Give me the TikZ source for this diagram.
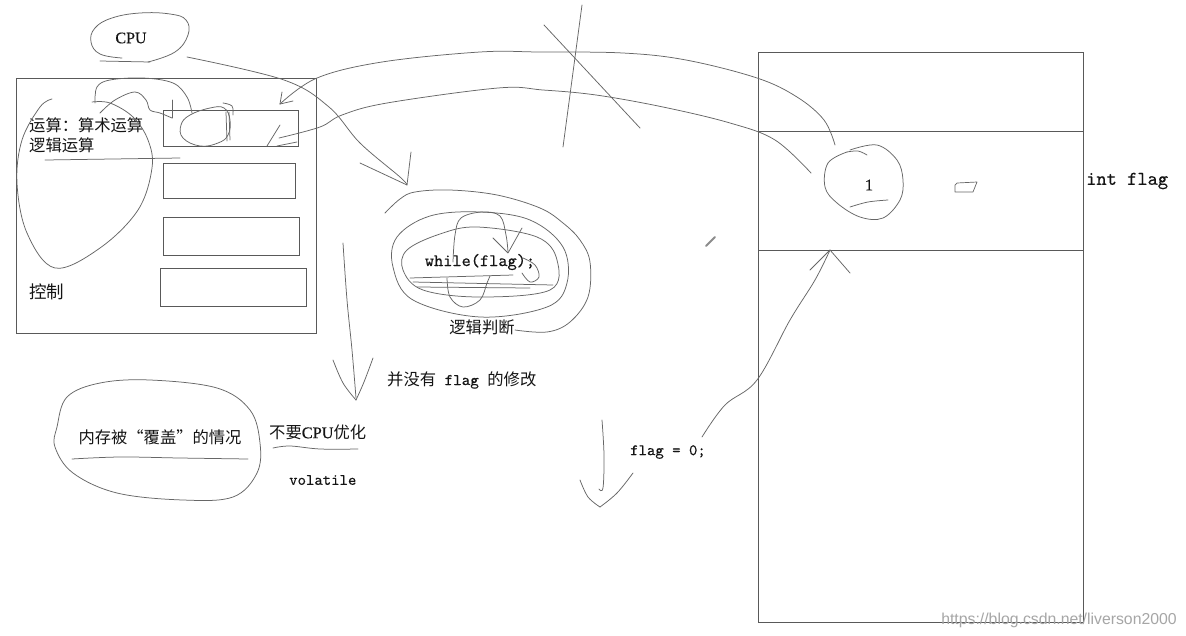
\documentclass[tikz,border=0pt]{standalone}
\usepackage{fontspec}
\setmainfont{Liberation Serif}
\newfontfamily\cjk{Noto Sans CJK SC}
\newfontfamily\urlfont{Liberation Sans}
\newfontfamily\codefont[FakeBold=0.3]{lmmono10-regular.otf}
\newfontfamily\serifb[FakeBold=0.4]{Liberation Serif}
\begin{document}
\begin{tikzpicture}[x=1pt,y=-1pt,
  pen/.style={draw=black!60, line width=0.75pt, line cap=round, line join=round},
  boxline/.style={draw=black!65, line width=0.9pt, inner sep=0pt, outer sep=0pt},
  cjkt/.style={font=\cjk\fontsize{16.3}{19}\selectfont, text=black!92, inner sep=0pt},
  monot/.style={font=\codefont\fontsize{16}{19}\selectfont, text=black!92, inner sep=0pt},
  serift/.style={font=\serifb\fontsize{16}{19}\selectfont, text=black!92, inner sep=0pt}]
\fill[white] (0,0) rectangle (1186,635);
\useasboundingbox (0,0) rectangle (1186,635);

% ---------- CPU box and registers ----------
\node[boxline, minimum width=300pt, minimum height=255pt, anchor=north west] (cpubox) at (16,78) {};
\node[boxline, minimum width=135pt, minimum height=36pt, anchor=north west] (r1) at (163,110) {};
\node[boxline, minimum width=132pt, minimum height=35pt, anchor=north west] (r2) at (163,163) {};
\node[boxline, minimum width=136pt, minimum height=38pt, anchor=north west] (r3) at (163,217) {};
\node[boxline, minimum width=146pt, minimum height=38pt, anchor=north west] (r4) at (160,268) {};

\node[cjkt, anchor=west] (op1) at (29,125) {运算：算术运算};
\node[cjkt, anchor=west] (op2) at (29,145) {逻辑运算};
\node[cjkt, anchor=west, font=\cjk\fontsize{17.5}{19}\selectfont] (ctl) at (29,292) {控制};
\node[serift] (cpu) at (131,38) {CPU};

% ---------- memory ----------
\node[boxline, minimum width=325pt, minimum height=570pt, anchor=north west] (mem) at (758,52) {};
\node[boxline, minimum width=325pt, minimum height=119pt, anchor=north west] (cell) at (758,131) {};
\node[serift] (one) at (869,185) {1};
\node[monot, anchor=west, font=\codefont\fontsize{19.5}{21}\selectfont] (intf) at (1086,181) {int flag};

% ---------- texts ----------
\node[monot, font=\codefont\fontsize{17.5}{20}\selectfont] (wh) at (480,262) {while(flag);};
\node[cjkt] (judge) at (482,327) {逻辑判断};
\node[cjkt, anchor=west] (nomod) at (387,380) {并没有{\codefont\ flag\ }的修改};
\node[cjkt] (cover) at (160,437) {内存被“覆盖”的情况};
\node[cjkt, anchor=west] (noopt) at (269,432) {不要{\serifb CPU}优化};
\node[monot, anchor=west] (vol) at (289,480) {volatile};
\node[monot, anchor=west] (f0) at (630,452) {flag = 0;};
\node[font=\urlfont\fontsize{15.8}{17}\selectfont, text=black!35, inner sep=0pt] (url) at (1059,620) {https://blog.csdn.net/liverson2000};

% ---------- connector end points ----------
\coordinate (cpuTail) at (187,57);
\coordinate (loopTip) at (407,185);
\coordinate (circTop) at (835,145);
\coordinate (r1TipA) at (280,104);
\coordinate (circLeft) at (811,173);
\coordinate (r1TipB) at (279,138);
\coordinate (f0Tail) at (702,437);
\coordinate (cellTip) at (830,250);

% ---------- hand drawn strokes: CPU ----------
\draw[pen] plot[smooth, tension=0.7] coordinates {(148,62) (175,52) (188,35) (186,20) (170,14) (140,13) (112,18) (95,28) (91,42) (100,54) (122,58)};
\draw[pen] (100,61) -- (150,62);

% heart loop
\draw[pen] plot[smooth, tension=0.6] coordinates {(52,99) (40,107) (22,140) (17,183) (27,233) (55,268) (100,248) (138,210) (152,168) (148,140) (133,117) (110,103) (92,102)};
\draw[pen] (45,160) -- (180,158);
% scribbles near first register
\draw[pen] plot[smooth, tension=0.6] coordinates {(95,103) (97,87) (110,80) (143,78) (173,83) (187,97) (192,113)};
\draw[pen] plot[smooth, tension=0.6] coordinates {(100,113) (115,100) (135,92) (146,100) (150,110) (160,113) (172,118)};
\draw[pen] (172,100) -- (172,118);
\draw[pen] plot[smooth cycle, tension=0.7] coordinates {(190,115) (181,125) (183,138) (200,146) (218,143) (228,135) (230,120) (224,108) (210,108)};
\draw[pen] plot[smooth, tension=0.6] coordinates {(223,103) (232,106) (233,115)};
\draw[pen] (226,112) -- (227,141);
\draw[pen] (229,112) -- (230,140);
\draw[pen] (280,125) -- (267,146);
\draw[pen] (277,146) -- (297,142);

% CPU -> loop
\draw[pen] plot[smooth, tension=0.6] coordinates {(cpuTail) (284,80) (329,107) (360,143) (400,177) (loopTip)};
\draw[pen] (360,163) -- (loopTip) -- (411,152);

% circle -> register (upper arc)
\draw[pen] plot[smooth, tension=0.6] coordinates {(circTop) (824,120) (797,97) (757,78) (686,60) (623,53) (540,52) (480,52) (382,62) (317,78) (r1TipA)};
\draw[pen] (282,92) -- (r1TipA) -- (293,101);
% circle -> register (lower arc)
\draw[pen] plot[smooth, tension=0.6] coordinates {(circLeft) (775,140) (730,123) (663,107) (596,95) (543,90) (498,88) (387,103) (342,115) (320,127) (r1TipB)};

% crossed lines
\draw[pen] (582,5) -- (563,147);
\draw[pen] (544,25) -- (640,128);

% ---------- loop scribbles ----------
\draw[pen] plot[smooth, tension=0.6] coordinates {(385,213) (400,199) (415,192) (450,190) (497,195) (540,208) (563,223) (580,240) (590,262) (588,297) (570,322) (547,332) (515,330)};
\draw[pen] plot[smooth cycle, tension=0.6] coordinates {(397,237) (430,216) (480,212) (530,220) (563,247) (567,283) (547,307) (480,317) (413,300) (393,267)};
\draw[pen] plot[smooth cycle, tension=0.6] coordinates {(407,250) (440,234) (477,227) (537,237) (557,260) (550,290) (480,297) (423,290) (403,270)};
\draw[pen] plot[smooth, tension=0.6] coordinates {(453,262) (455,235) (461,218) (482,212) (500,216) (506,235) (508,252)};
\draw[pen] (493,238) -- (508,253) -- (522,228);
\draw[pen] plot[smooth, tension=0.6] coordinates {(447,278) (450,297) (463,307) (480,300) (487,283) (490,276)};
\draw[pen] (410,278) -- (513,275);
\draw[pen] (413,282) -- (553,285);
\draw[pen] (417,287) -- (530,288);
\draw[pen] plot[smooth, tension=0.6] coordinates {(523,258) (535,265) (539,277) (530,282) (522,273)};

% down arrow left
\draw[pen] plot[smooth, tension=0.6] coordinates {(343,243) (347,300) (352,350) (356,398)};
\draw[pen] plot[smooth, tension=0.6] coordinates {(333,360) (343,383) (356,400)};
\draw[pen] plot[smooth, tension=0.6] coordinates {(373,358) (364,382) (356,400)};

% bottom-left ellipse
\draw[pen] plot[smooth cycle, tension=0.6] coordinates {(57,427) (67,397) (100,383) (150,380) (217,388) (250,410) (260,443) (257,473) (233,497) (183,500) (117,493) (73,473) (55,447)};
\draw[pen] plot[smooth, tension=0.6] coordinates {(72,459) (120,457) (180,458) (248,459)};
\draw[pen] plot[smooth, tension=0.6] coordinates {(273,448) (290,446) (320,449) (358,449)};

% down arrow right
\draw[pen] plot[smooth, tension=0.6] coordinates {(602,420) (604,455) (603,488) (599,489)};
\draw[pen] plot[smooth, tension=0.6] coordinates {(580,480) (588,497) (600,507)};
\draw[pen] plot[smooth, tension=0.6] coordinates {(600,507) (617,493) (633,473)};

% flag=0 -> memory cell
\draw[pen] plot[smooth, tension=0.6] coordinates {(f0Tail) (725,405) (757,380) (790,320) (815,280) (cellTip)};
\draw[pen] (810,270) -- (cellTip) -- (850,273);

% circle around 1
\draw[pen] plot[smooth, tension=0.6] coordinates {(850,150) (877,145) (897,160) (903,180) (900,200) (883,218) (860,217) (837,203) (825,187) (828,163) (847,152)};
\draw[pen] plot[smooth, tension=0.6] coordinates {(847,152) (858,151) (867,155)};
\draw[pen] plot[smooth, tension=0.6] coordinates {(850,207) (868,202) (888,200)};
% small mark
\draw[pen, line width=0.7pt] (957,183) -- (977,182) -- (973,192) -- (955,192) -- (955,185) -- cycle;
% pen cursor
\draw[black!45, line width=2pt, line cap=round] (706,246) -- (715,237);
\end{tikzpicture}
\end{document}
